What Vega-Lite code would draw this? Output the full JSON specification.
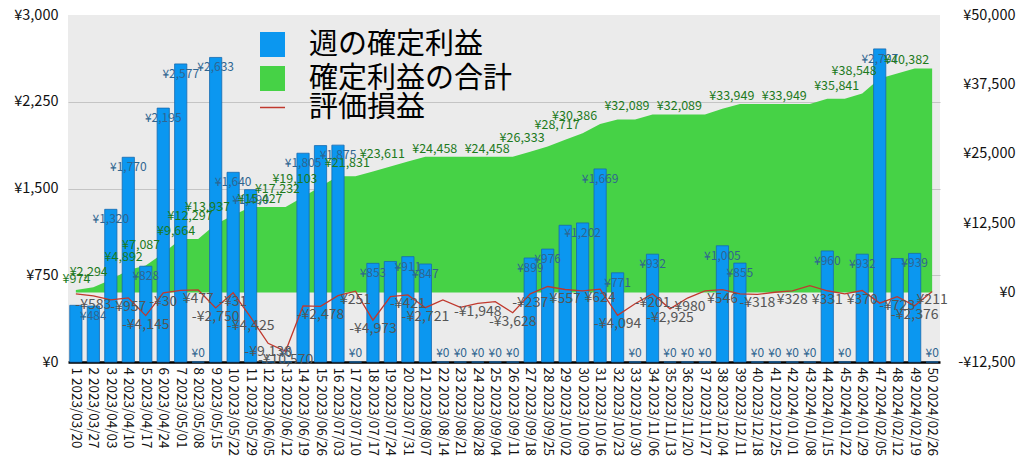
{
  "$schema": "https://vega.github.io/schema/vega-lite/v6.json",
  "width": 872,
  "height": 347,
  "autosize": {"type": "none"},
  "padding": {"left": 68, "top": 15, "right": 84, "bottom": 113},
  "config": {
    "view": {"fill": "#ebebeb", "stroke": null},
    "font": "Noto Sans CJK JP",
    "locale": {"number": {"decimal": ".", "thousands": ",", "grouping": [3], "currency": ["¥", ""], "minus": "-"}},
    "axis": {"labelFont": "Noto Sans CJK JP", "labelColor": "#222222", "title": null},
    "legend": {"labelFont": "Noto Sans CJK JP"}
  },
  "data": {"values": [
    {"x": "1 2023/03/20", "p": 490, "c": 490, "u": -240, "sp": 0, "sc": 0, "su": 0},
    {"x": "2 2023/03/27", "p": 484, "c": 974, "u": -583, "sp": 1, "sc": 1, "su": 1},
    {"x": "3 2023/04/03", "p": 1320, "c": 2294, "u": -1300, "sp": 1, "sc": 1, "su": 0},
    {"x": "4 2023/04/10", "p": 1770, "c": 4064, "u": -957, "sp": 1, "sc": 0, "su": 1},
    {"x": "5 2023/04/17", "p": 828, "c": 4892, "u": -4145, "sp": 1, "sc": 1, "su": 1},
    {"x": "6 2023/04/24", "p": 2195, "c": 7087, "u": -30, "sp": 1, "sc": 1, "su": 1},
    {"x": "7 2023/05/01", "p": 2577, "c": 9664, "u": 400, "sp": 1, "sc": 0, "su": 0},
    {"x": "8 2023/05/08", "p": 0, "c": 9664, "u": 477, "sp": 1, "sc": 1, "su": 1},
    {"x": "9 2023/05/15", "p": 2633, "c": 12297, "u": -2750, "sp": 1, "sc": 1, "su": 1},
    {"x": "10 2023/05/22", "p": 1640, "c": 13937, "u": -31, "sp": 1, "sc": 1, "su": 1},
    {"x": "11 2023/05/29", "p": 1490, "c": 15427, "u": -4425, "sp": 1, "sc": 0, "su": 1},
    {"x": "12 2023/06/05", "p": 0, "c": 15427, "u": -9138, "sp": 0, "sc": 0, "su": 1},
    {"x": "13 2023/06/12", "p": 0, "c": 15427, "u": -10570, "sp": 1, "sc": 1, "su": 1},
    {"x": "14 2023/06/19", "p": 1805, "c": 17232, "u": -2400, "sp": 1, "sc": 1, "su": 0},
    {"x": "15 2023/06/26", "p": 1871, "c": 19103, "u": -2478, "sp": 0, "sc": 1, "su": 1},
    {"x": "16 2023/07/03", "p": 1875, "c": 20978, "u": -540, "sp": 1, "sc": 0, "su": 0},
    {"x": "17 2023/07/10", "p": 0, "c": 20978, "u": 251, "sp": 1, "sc": 0, "su": 1},
    {"x": "18 2023/07/17", "p": 853, "c": 21831, "u": -4973, "sp": 1, "sc": 1, "su": 1},
    {"x": "19 2023/07/24", "p": 869, "c": 22700, "u": -720, "sp": 0, "sc": 0, "su": 0},
    {"x": "20 2023/07/31", "p": 911, "c": 23611, "u": -421, "sp": 1, "sc": 1, "su": 1},
    {"x": "21 2023/08/07", "p": 847, "c": 24458, "u": -2721, "sp": 1, "sc": 0, "su": 1},
    {"x": "22 2023/08/14", "p": 0, "c": 24458, "u": -1315, "sp": 1, "sc": 0, "su": 0},
    {"x": "23 2023/08/21", "p": 0, "c": 24458, "u": -2650, "sp": 1, "sc": 1, "su": 0},
    {"x": "24 2023/08/28", "p": 0, "c": 24458, "u": -1948, "sp": 1, "sc": 0, "su": 1},
    {"x": "25 2023/09/04", "p": 0, "c": 24458, "u": -1620, "sp": 1, "sc": 0, "su": 0},
    {"x": "26 2023/09/11", "p": 0, "c": 24458, "u": -3628, "sp": 1, "sc": 1, "su": 1},
    {"x": "27 2023/09/18", "p": 899, "c": 25357, "u": -237, "sp": 1, "sc": 0, "su": 1},
    {"x": "28 2023/09/25", "p": 976, "c": 26333, "u": 1100, "sp": 1, "sc": 1, "su": 0},
    {"x": "29 2023/10/02", "p": 1182, "c": 27515, "u": 557, "sp": 0, "sc": 0, "su": 1},
    {"x": "30 2023/10/09", "p": 1202, "c": 28717, "u": 300, "sp": 1, "sc": 1, "su": 0},
    {"x": "31 2023/10/16", "p": 1669, "c": 30386, "u": 624, "sp": 1, "sc": 1, "su": 1},
    {"x": "32 2023/10/23", "p": 771, "c": 31157, "u": -4094, "sp": 1, "sc": 0, "su": 1},
    {"x": "33 2023/10/30", "p": 0, "c": 31157, "u": -2000, "sp": 1, "sc": 0, "su": 0},
    {"x": "34 2023/11/06", "p": 932, "c": 32089, "u": -201, "sp": 1, "sc": 1, "su": 1},
    {"x": "35 2023/11/13", "p": 0, "c": 32089, "u": -2925, "sp": 1, "sc": 0, "su": 1},
    {"x": "36 2023/11/20", "p": 0, "c": 32089, "u": -980, "sp": 1, "sc": 0, "su": 1},
    {"x": "37 2023/11/27", "p": 0, "c": 32089, "u": 300, "sp": 1, "sc": 1, "su": 0},
    {"x": "38 2023/12/04", "p": 1005, "c": 33094, "u": 546, "sp": 1, "sc": 0, "su": 1},
    {"x": "39 2023/12/11", "p": 855, "c": 33949, "u": -240, "sp": 1, "sc": 0, "su": 0},
    {"x": "40 2023/12/18", "p": 0, "c": 33949, "u": -318, "sp": 1, "sc": 1, "su": 1},
    {"x": "41 2023/12/25", "p": 0, "c": 33949, "u": 60, "sp": 1, "sc": 0, "su": 0},
    {"x": "42 2024/01/01", "p": 0, "c": 33949, "u": 328, "sp": 1, "sc": 0, "su": 1},
    {"x": "43 2024/01/08", "p": 0, "c": 33949, "u": 1260, "sp": 1, "sc": 1, "su": 0},
    {"x": "44 2024/01/15", "p": 960, "c": 34909, "u": 331, "sp": 1, "sc": 0, "su": 1},
    {"x": "45 2024/01/22", "p": 0, "c": 34909, "u": -240, "sp": 1, "sc": 0, "su": 0},
    {"x": "46 2024/01/29", "p": 932, "c": 35841, "u": 370, "sp": 1, "sc": 1, "su": 1},
    {"x": "47 2024/02/05", "p": 2707, "c": 38548, "u": -1900, "sp": 1, "sc": 1, "su": 0},
    {"x": "48 2024/02/12", "p": 895, "c": 39443, "u": -723, "sp": 0, "sc": 0, "su": 1},
    {"x": "49 2024/02/19", "p": 939, "c": 40382, "u": -2376, "sp": 1, "sc": 0, "su": 1},
    {"x": "50 2024/02/26", "p": 0, "c": 40382, "u": 211, "sp": 1, "sc": 1, "su": 1}
  ]},
  "encoding": {
    "x": {
      "field": "x", "type": "nominal", "sort": null,
      "scale": {"paddingInner": 0.3, "paddingOuter": 0.1},
      "axis": {
        "labelAngle": 90, "labelAlign": "left", "labelBaseline": "middle",
        "labelFontSize": 13.5, "labelColor": "#111111", "labelPadding": 5,
        "ticks": false, "domainColor": "#000000", "domainWidth": 2.5, "grid": false
      }
    }
  },
  "layer": [
    {
      "mark": {"type": "area", "opacity": 1},
      "encoding": {
        "y": {
          "field": "c", "type": "quantitative",
          "scale": {"domain": [-12500, 50000], "nice": false, "zero": false},
          "axis": {
            "orient": "right", "values": [-12500, 0, 12500, 25000, 37500, 50000],
            "labelExpr": "(datum.value < 0 ? '-¥' : '¥') + format(abs(datum.value), ',')",
            "grid": false, "domain": false, "ticks": false,
            "labelAlign": "right", "labelPadding": 75, "labelFontSize": 14.5, "labelColor": "#111111"
          }
        },
        "color": {
          "datum": "確定利益の合計",
          "scale": {"domain": ["週の確定利益", "確定利益の合計"], "range": ["#0b97f0", "#46d246"]},
          "legend": {
            "orient": "none", "legendX": 190, "legendY": 15, "title": null,
            "symbolType": "square", "symbolSize": 625, "symbolStrokeWidth": 0,
            "labelFontSize": 29, "labelColor": "#000000", "labelOffset": 22,
            "rowPadding": 4, "padding": 0, "labelLimit": 400
          }
        }
      }
    },
    {
      "mark": {"type": "bar", "stroke": "#1769b0", "strokeWidth": 0.8},
      "encoding": {
        "y": {
          "field": "p", "type": "quantitative",
          "scale": {"domain": [0, 3000], "nice": false},
          "axis": {
            "orient": "left", "values": [0, 750, 1500, 2250, 3000],
            "labelExpr": "'¥' + format(datum.value, ',')",
            "grid": true, "gridColor": "#c4c4c4", "gridWidth": 1,
            "gridOpacity": {"condition": {"test": "datum.value == 0 || datum.value == 3000", "value": 0}, "value": 1},
            "domain": false, "ticks": false,
            "labelPadding": 10, "labelFontSize": 14.5, "labelColor": "#111111"
          }
        },
        "color": {"datum": "週の確定利益"}
      }
    },
    {
      "mark": {"type": "line", "strokeWidth": 1.3},
      "encoding": {
        "y": {"field": "u", "type": "quantitative", "scale": {"domain": [-12500, 50000], "nice": false, "zero": false}, "axis": null},
        "stroke": {
          "datum": "評価損益",
          "scale": {"range": ["#c0392e"]},
          "legend": {
            "orient": "none", "legendX": 190, "legendY": 78, "title": null,
            "symbolType": "stroke", "symbolSize": 625, "symbolStrokeWidth": 1.5,
            "labelFontSize": 29, "labelColor": "#000000", "labelOffset": 22,
            "padding": 0, "labelLimit": 400
          }
        }
      }
    },
    {
      "transform": [{"filter": "datum.sp == 1 && datum.p > 0"}],
      "mark": {"type": "text", "baseline": "middle", "dy": 10, "fontSize": 12, "color": "#2f6590"},
      "encoding": {
        "y": {"field": "p", "type": "quantitative", "scale": {"domain": [0, 3000], "nice": false}, "axis": null},
        "text": {"field": "p", "type": "quantitative", "format": "$,"}
      }
    },
    {
      "transform": [{"filter": "datum.sp == 1 && datum.p == 0"}],
      "mark": {"type": "text", "baseline": "middle", "dy": -9, "fontSize": 12, "color": "#2f6590"},
      "encoding": {
        "y": {"field": "p", "type": "quantitative", "scale": {"domain": [0, 3000], "nice": false}, "axis": null},
        "text": {"field": "p", "type": "quantitative", "format": "$,"}
      }
    },
    {
      "transform": [{"filter": "datum.sc == 1"}],
      "mark": {"type": "text", "baseline": "middle", "align": "right", "dx": -3, "dy": -8, "fontSize": 12.5, "color": "#1d7a1d"},
      "encoding": {
        "y": {"field": "c", "type": "quantitative", "scale": {"domain": [-12500, 50000], "nice": false, "zero": false}, "axis": null},
        "text": {"field": "c", "type": "quantitative", "format": "$,"}
      }
    },
    {
      "transform": [{"filter": "datum.su == 1"}],
      "mark": {"type": "text", "baseline": "middle", "dy": 9, "fontSize": 14, "color": "#555555"},
      "encoding": {
        "y": {"field": "u", "type": "quantitative", "scale": {"domain": [-12500, 50000], "nice": false, "zero": false}, "axis": null},
        "text": {"field": "u", "type": "quantitative", "format": "$,"}
      }
    }
  ],
  "resolve": {"scale": {"y": "independent"}}
}
